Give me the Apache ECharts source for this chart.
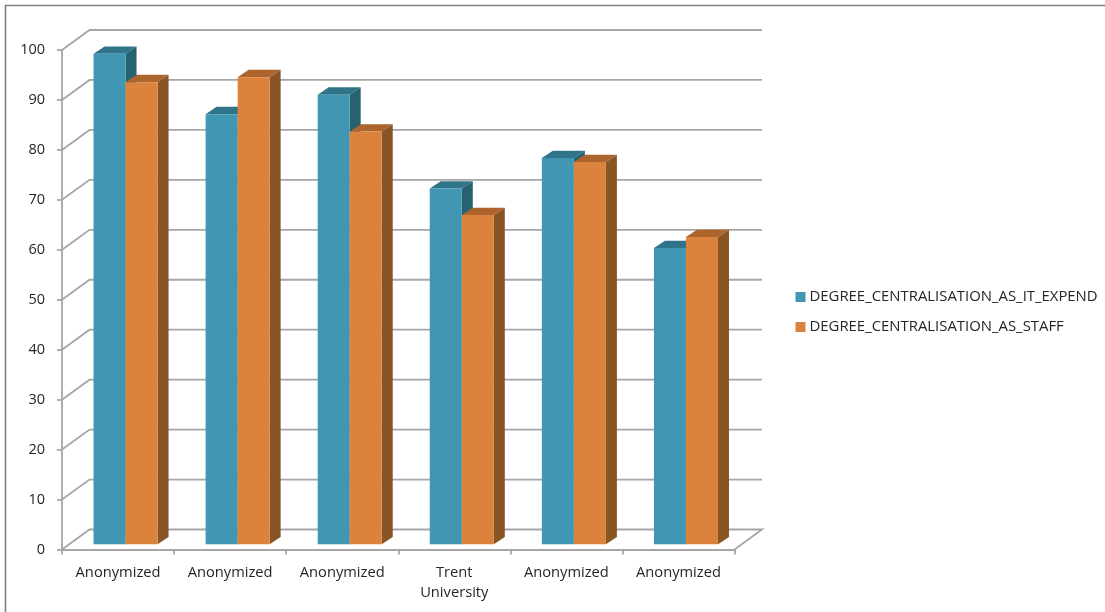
<!DOCTYPE html>
<html><head><meta charset="utf-8">
<style>html,body{margin:0;padding:0;background:#fff}#c{width:1105px;height:612px}</style>
<script src="https://cdn.jsdelivr.net/npm/echarts@6/dist/echarts.min.js"></script>
</head><body><div id="c"></div>
<script>
const categories = ['Anonymized','Anonymized','Anonymized','Trent\nUniversity','Anonymized','Anonymized'];
const itExpend = [98.2,86.1,90,71.2,77.3,59.3];
const staff = [92.5,93.5,82.6,65.9,76.5,61.5];
const gridTicks = [0,10,20,30,40,50,60,70,80,90,100];
const nameA = 'DEGREE_CENTRALISATION_AS_IT_EXPEND';
const nameB = 'DEGREE_CENTRALISATION_AS_STAFF';

const FONT = '"Open Sans"';
const WALL_DX = 27.5, WALL_DY = -20;
const BAR_SHIFT_X = 7.5, BAR_SHIFT_Y = -5.3, BAR_DX = 11, BAR_DY = -7.3;
const LINE = '#a6a6a6';

function renderWall(params, api){
  const v = api.value(0);
  const p = api.coord([0, v]);
  const cs = params.coordSys;
  const x0 = cs.x, x1 = cs.x + cs.width, y = p[1];
  const pts = [[x0,y],[x0+WALL_DX,y+WALL_DY],[x1+WALL_DX,y+WALL_DY]];
  if (v === 0) pts.push([x1,y]);
  return {type:'polyline', shape:{points:pts}, style:{stroke:LINE, lineWidth:1.8, fill:null}};
}
function barRenderer(offset, front, top, side){
  return function(params, api){
    const c = api.coord([api.value(0), api.value(1)]);
    const b = api.coord([api.value(0), 0]);
    const w = api.size([1,0])[0] * 32 / 112;
    const x0 = c[0] + offset*w + BAR_SHIFT_X, x1 = x0 + w;
    const yt = c[1] + BAR_SHIFT_Y, yb = b[1] + BAR_SHIFT_Y;
    const poly = (pts, color) => ({type:'polygon', shape:{points:pts}, style:{fill:color}});
    return {type:'group', children:[
      poly([[x1,yt],[x1+BAR_DX,yt+BAR_DY],[x1+BAR_DX,yb+BAR_DY],[x1,yb]], side),
      poly([[x0,yt],[x0+BAR_DX,yt+BAR_DY],[x1+BAR_DX,yt+BAR_DY],[x1,yt]], top),
      poly([[x0,yt],[x1,yt],[x1,yb],[x0,yb]], front)
    ]};
  };
}
const chart = echarts.init(document.getElementById('c'), null, {renderer:'canvas'});
chart.setOption({
  animation:false,
  backgroundColor:'#fff',
  textStyle:{fontFamily:FONT},
  graphic:[{type:'polyline', silent:true, shape:{points:[[5.5,612],[5.5,5.5],[1105,5.5]]},
    style:{stroke:'#7f7f7f', lineWidth:1.6, fill:null}}],
  grid:{left:62, right:370.5, top:50, bottom:62.5},
  legend:{
    left:790.5, top:282, orient:'vertical', itemWidth:10, itemHeight:10, itemGap:10, align:'left',
    icon:'rect', data:[nameA,nameB],
    textStyle:{fontFamily:FONT, fontSize:14.9, color:'#262626', padding:[0,0,0,-1], lineHeight:20}
  },
  xAxis:{type:'category', data:categories,
    axisLine:{lineStyle:{color:LINE,width:1.8}},
    axisTick:{show:true,length:5,lineStyle:{color:LINE,width:1.8}},
    axisLabel:{color:'#262626',fontFamily:FONT,fontSize:14.7,margin:13,lineHeight:20,interval:0},
    splitLine:{show:false}},
  yAxis:{type:'value', min:0, max:100, interval:10,
    axisLine:{show:true,lineStyle:{color:LINE,width:1.8}},
    axisTick:{show:true,length:5,lineStyle:{color:LINE,width:1.8}},
    axisLabel:{color:'#262626',fontFamily:FONT,fontSize:14.5,margin:17,padding:[3,0,0,0]},
    splitLine:{show:false}},
  series:[
    {name:'wall', type:'custom', silent:true, clip:false, data:gridTicks.map(v=>[v]),
     encode:{y:0}, renderItem:renderWall, z:1},
    {name:nameA, type:'custom', clip:false, itemStyle:{color:'#4197b3'},
     data:itExpend.map((v,i)=>[i,v]), encode:{x:0,y:1},
     renderItem:barRenderer(-1,'#4197b3','#2f7488','#276272'), z:2},
    {name:nameB, type:'custom', clip:false, itemStyle:{color:'#db823c'},
     data:staff.map((v,i)=>[i,v]), encode:{x:0,y:1},
     renderItem:barRenderer(0,'#db823c','#ad642d','#8a5526'), z:3}
  ]
});
</script></body></html>
